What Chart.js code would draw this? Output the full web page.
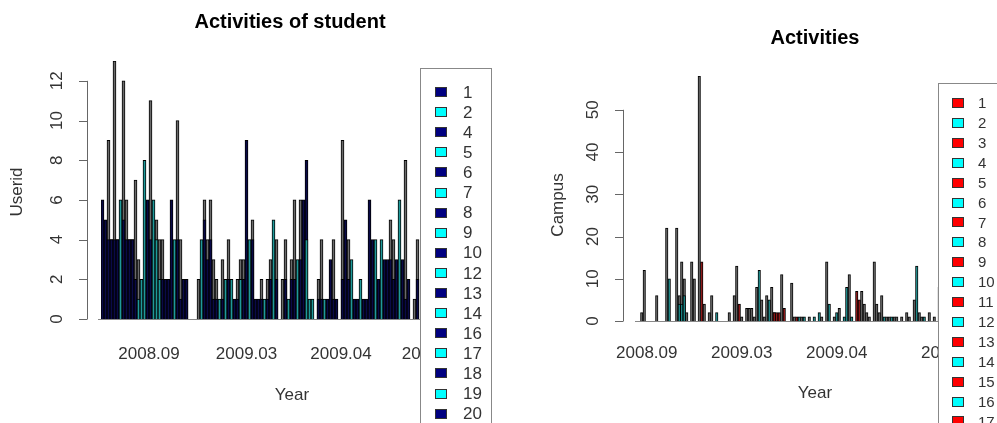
<!DOCTYPE html>
<html>
<head>
<meta charset="utf-8">
<script src="https://cdn.jsdelivr.net/npm/chart.js@4.4.1/dist/chart.umd.min.js"></script>
<style>
  html, body { margin: 0; padding: 0; background: #fff; }
  #wrap { position: relative; width: 997px; height: 423px; overflow: hidden; }
  canvas { position: absolute; top: 0; }
  #left { left: 0; }
  #right { left: 500px; }
</style>
</head>
<body>
<div id="wrap">
  <canvas id="left" width="500" height="423"></canvas>
  <canvas id="right" width="497" height="423"></canvas>
</div>
<script>
// ---- left panel: activities of student (per user id) ----
const userIds = ['1', '2', '4', '5', '6', '7', '8', '9', '10', '12', '13', '14', '16', '17', '18', '19', '20'];
const leftTickLabels = ['2008.09', '2009.03', '2009.04', '2009.05'];
const leftTickSlots = [15.5, 48, 79.5, 110];
const leftYTicks = [0, 2, 4, 6, 8, 10, 12];

const leftGray = [
  0, 0, 9, 4, 13, 4, 0, 12, 6, 4,
  4, 7, 3, 2, 0, 0, 11, 0, 5, 4,
  4, 0, 0, 0, 0, 10, 4, 0, 2, 0,
  0, 0, 2, 0, 6, 4, 6, 3, 2, 0,
  3, 0, 4, 0, 0, 2, 3, 3, 0, 0,
  5, 0, 0, 2, 0, 2, 3, 0, 4, 0,
  2, 4, 0, 3, 6, 0, 6, 0, 0, 0,
  0, 0, 2, 4, 0, 0, 0, 4, 0, 0,
  9, 0, 4, 0, 0, 0, 0, 0, 0, 0,
  0, 0, 0, 0, 0, 0, 5, 4, 0, 0,
  0, 8, 0, 0, 1, 4
];
const leftNavy = [
  6, 5, 4, 4, 4, 4, 0, 5, 4, 4,
  4, 2, 0, 0, 0, 6, 4, 0, 0, 0,
  2, 2, 2, 6, 0, 4, 1, 2, 2, 0,
  0, 0, 0, 0, 5, 3, 4, 1, 1, 0,
  1, 0, 2, 0, 1, 1, 0, 2, 9, 0,
  4, 1, 1, 1, 0, 1, 2, 0, 2, 0,
  0, 2, 0, 2, 2, 0, 3, 6, 8, 0,
  0, 0, 1, 1, 0, 1, 3, 1, 1, 0,
  2, 5, 2, 0, 1, 1, 0, 1, 1, 6,
  4, 0, 2, 0, 3, 3, 3, 2, 3, 0,
  3, 1, 2, 0, 0, 2
];
const leftTeal = [
  0, 0, 0, 0, 0, 0, 6, 0, 0, 0,
  0, 0, 1, 2, 8, 0, 0, 6, 4, 2,
  0, 0, 0, 0, 4, 0, 0, 0, 0, 0,
  0, 0, 0, 4, 0, 0, 0, 0, 0, 1,
  0, 2, 0, 2, 0, 0, 2, 0, 0, 4,
  0, 0, 0, 0, 1, 0, 0, 5, 0, 0,
  0, 0, 1, 0, 0, 3, 0, 0, 4, 1,
  1, 0, 0, 0, 1, 0, 0, 0, 0, 0,
  0, 0, 0, 3, 0, 0, 2, 0, 0, 0,
  0, 4, 0, 4, 0, 0, 0, 0, 0, 6,
  0, 0, 0, 0, 0, 0
];
const leftDays = Array.from({ length: 120 }, (_, i) => 'day ' + (i + 1));

// ---- right panel: activities per campus ----
const campusIds = ['1', '2', '3', '4', '5', '6', '7', '8', '9', '10', '11', '12', '13', '14', '15', '16', '17'];
const rightTickLabels = ['2008.09', '2009.03', '2009.04', '2009.05'];
const rightTickSlots = [3, 41, 79, 125];
const rightYTicks = [0, 10, 20, 30, 40, 50];

const rightGray = [
  0, 2, 12, 0, 0, 0, 0, 6, 0, 0,
  0, 22, 0, 0, 0, 22, 6, 14, 10, 2,
  0, 14, 10, 0, 58, 0, 4, 0, 2, 6,
  0, 0, 0, 0, 0, 0, 2, 0, 6, 13,
  0, 1, 0, 3, 3, 3, 1, 8, 0, 5,
  1, 6, 0, 8, 2, 0, 0, 11, 0, 0,
  0, 9, 1, 0, 0, 1, 0, 0, 1, 0,
  0, 0, 0, 1, 0, 14, 0, 0, 1, 0,
  3, 0, 0, 0, 11, 0, 0, 0, 0, 7,
  4, 2, 1, 0, 14, 4, 2, 6, 0, 1,
  1, 0, 1, 1, 0, 1, 0, 2, 1, 0,
  5, 0, 2, 1, 0, 0, 2, 0, 1, 0,
  8
];
const rightRed = [
  0, 0, 0, 0, 0, 0, 0, 0, 0, 0,
  0, 0, 0, 0, 0, 0, 0, 0, 0, 0,
  0, 0, 0, 0, 0, 14, 0, 0, 0, 0,
  0, 0, 0, 0, 0, 0, 0, 0, 0, 0,
  4, 0, 0, 0, 0, 0, 0, 0, 0, 0,
  0, 0, 0, 0, 2, 2, 2, 0, 3, 0,
  0, 0, 0, 1, 0, 0, 0, 0, 0, 0,
  0, 0, 0, 0, 0, 0, 0, 0, 0, 0,
  0, 0, 0, 0, 0, 0, 0, 7, 5, 0,
  0, 0, 0, 0, 0, 0, 0, 0, 0, 0,
  0, 0, 0, 0, 0, 0, 0, 0, 0, 0,
  0, 0, 0, 0, 0, 0, 0, 0, 0, 0,
  0
];
const rightTeal = [
  0, 0, 0, 0, 0, 0, 0, 0, 0, 0,
  0, 0, 10, 0, 0, 0, 4, 4, 6, 0,
  0, 0, 0, 0, 0, 0, 0, 0, 0, 0,
  0, 2, 0, 0, 0, 0, 0, 0, 0, 0,
  0, 0, 0, 0, 0, 0, 0, 0, 12, 0,
  0, 0, 5, 0, 0, 0, 0, 0, 0, 0,
  0, 0, 0, 0, 1, 0, 1, 0, 0, 0,
  1, 0, 2, 0, 0, 0, 4, 0, 0, 2,
  0, 0, 1, 8, 0, 1, 0, 0, 0, 0,
  0, 0, 0, 0, 0, 0, 0, 0, 1, 0,
  0, 1, 0, 0, 0, 0, 0, 0, 0, 0,
  0, 13, 0, 0, 1, 0, 0, 0, 0, 0,
  0
];
const rightDays = Array.from({ length: 130 }, (_, i) => 'day ' + (i + 1));

const FONT = '"Liberation Sans", Arial, sans-serif';

// R-like axes, titles and boxed legend drawn from the chart's own scales
const rStyle = {
  id: 'rStyle',
  beforeDatasetsDraw(chart, args, o) {
    const { ctx } = chart;
    const py = Math.round(chart.scales.y.getPixelForValue(0)) + 0.5;
    ctx.save();
    ctx.strokeStyle = '#888';
    ctx.lineWidth = 1;
    ctx.beginPath();
    ctx.moveTo(o.baseFrom, py);
    ctx.lineTo(o.baseTo, py);
    ctx.stroke();
    ctx.restore();
  },
  afterDatasetsDraw(chart, args, o) {
    const { ctx } = chart;
    const x = chart.scales.x, y = chart.scales.y;
    ctx.save();

    // y axis
    const top = y.getPixelForValue(o.yTicks[o.yTicks.length - 1]);
    const bot = y.getPixelForValue(o.yTicks[0]);
    ctx.strokeStyle = '#666';
    ctx.lineWidth = 1;
    ctx.beginPath();
    ctx.moveTo(o.axisX + 0.5, top);
    ctx.lineTo(o.axisX + 0.5, bot);
    o.yTicks.forEach(v => {
      const p = Math.round(y.getPixelForValue(v)) + 0.5;
      ctx.moveTo(o.axisX + 0.5, p);
      ctx.lineTo(o.axisX - 8, p);
    });
    ctx.stroke();

    ctx.fillStyle = '#333';
    ctx.font = '17px ' + FONT;
    ctx.textAlign = 'center';
    ctx.textBaseline = 'middle';
    o.yTicks.forEach(v => {
      ctx.save();
      ctx.translate(o.axisX - 30, y.getPixelForValue(v));
      ctx.rotate(-Math.PI / 2);
      ctx.fillText(String(v), 0, 0);
      ctx.restore();
    });

    // x tick labels
    o.xLabels.forEach((lab, i) => {
      ctx.fillText(lab, x.getPixelForValue(o.xSlots[i]), o.xLabelY);
    });

    // axis titles
    ctx.fillText('Year', o.yearX, o.yearY);
    ctx.save();
    ctx.translate(o.yTitleX, o.yTitleY);
    ctx.rotate(-Math.PI / 2);
    ctx.fillText(o.yTitle, 0, 0);
    ctx.restore();

    // main title
    ctx.fillStyle = '#000';
    ctx.font = 'bold 20px ' + FONT;
    ctx.fillText(o.title, o.titleX, o.titleY);

    // legend box
    const lg = o.legend;
    ctx.fillStyle = '#fff';
    ctx.fillRect(lg.x, lg.y, lg.w, 500);
    ctx.strokeStyle = '#888';
    ctx.strokeRect(lg.x + 0.5, lg.y + 0.5, lg.w, 500);
    ctx.font = lg.font + 'px ' + FONT;
    ctx.textAlign = 'left';
    lg.labels.forEach((lab, i) => {
      const ry = lg.firstY + i * lg.step;
      ctx.fillStyle = lg.colors[i % 2];
      ctx.fillRect(lg.boxX, Math.round(ry - 5), 12, 10);
      ctx.strokeStyle = '#333';
      ctx.strokeRect(lg.boxX + 0.5, Math.round(ry - 5) + 0.5, 11, 9);
      ctx.fillStyle = '#333';
      ctx.fillText(lab, lg.textX, ry + 1);
    });

    ctx.restore();
  }
};

function barSet(label, data, fill, order) {
  return {
    label: label,
    data: data,
    backgroundColor: fill,
    borderColor: '#000',
    borderWidth: 1,
    barPercentage: 1,
    categoryPercentage: 1,
    grouped: false,
    order: order
  };
}

function makeChart(id, labels, datasets, yMax, padding, style) {
  const ctx = document.getElementById(id).getContext('2d');
  return new Chart(ctx, {
    type: 'bar',
    data: { labels: labels, datasets: datasets },
    options: {
      responsive: false,
      animation: false,
      layout: { padding: padding },
      scales: {
        x: { display: false, offset: true },
        y: { display: false, min: 0, max: yMax }
      },
      plugins: {
        legend: { display: false },
        tooltip: { enabled: false },
        rStyle: style
      }
    },
    plugins: [rStyle]
  });
}

makeChart('left', leftDays, [
  barSet('all users', leftGray, '#6a6a6a', 3),
  barSet('odd users', leftNavy, '#0a0a48', 2),
  barSet('even users', leftTeal, '#1f9a9a', 1)
], 13, { left: 101, right: 39, top: 61, bottom: 104 }, {
  baseFrom: 98, baseTo: 420,
  axisX: 87, yTicks: leftYTicks,
  xLabels: leftTickLabels, xSlots: leftTickSlots, xLabelY: 354,
  yearX: 292, yearY: 395,
  yTitle: 'Userid', yTitleX: 17, yTitleY: 192,
  title: 'Activities of student', titleX: 290, titleY: 22,
  legend: {
    x: 420, y: 68, w: 71, labels: userIds, font: 17,
    colors: ['#000080', '#00ffff'],
    boxX: 435, textX: 463, firstY: 92, step: 20.1
  }
});

makeChart('right', rightDays, [
  barSet('all campuses', rightGray, '#6a6a6a', 3),
  barSet('odd campuses', rightRed, '#a01818', 2),
  barSet('even campuses', rightTeal, '#1f9a9a', 1)
], 58, { left: 138, right: 34, top: 76, bottom: 102 }, {
  baseFrom: 135, baseTo: 438,
  axisX: 123, yTicks: rightYTicks,
  xLabels: rightTickLabels, xSlots: rightTickSlots, xLabelY: 353,
  yearX: 315, yearY: 393,
  yTitle: 'Campus', yTitleX: 58, yTitleY: 205,
  title: 'Activities', titleX: 315, titleY: 38,
  legend: {
    x: 438, y: 83, w: 80, labels: campusIds, font: 15,
    colors: ['#ff0000', '#00ffff'],
    boxX: 452, textX: 478, firstY: 103, step: 19.9
  }
});
</script>
</body>
</html>
